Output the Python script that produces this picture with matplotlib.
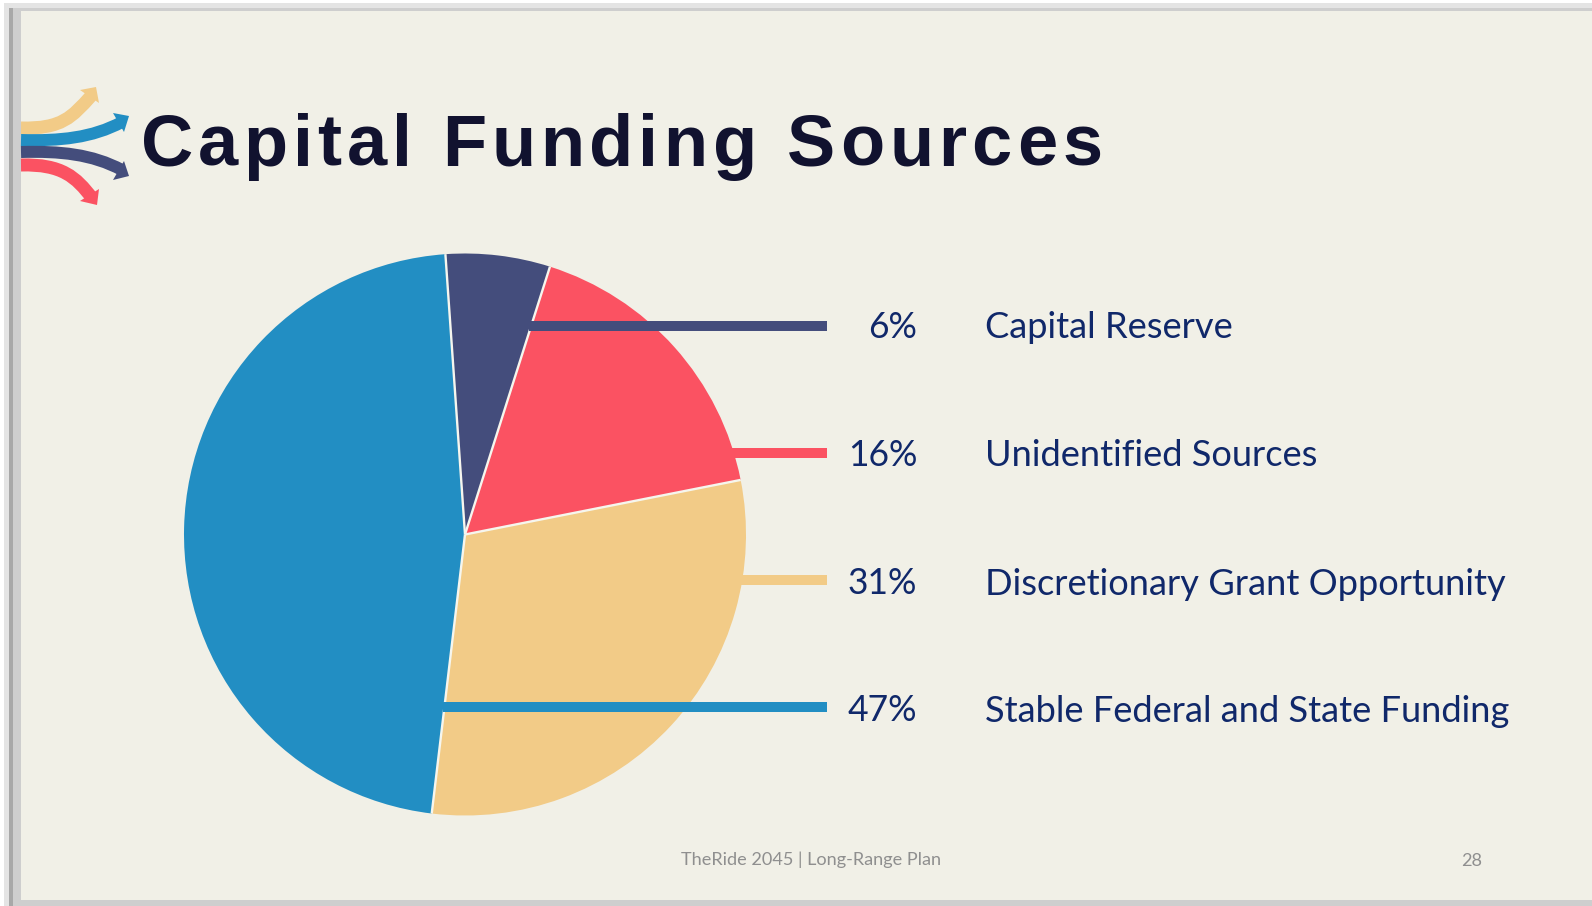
import matplotlib
matplotlib.use("Agg")
import matplotlib.pyplot as plt
from matplotlib.patches import Rectangle, PathPatch, Polygon
from matplotlib.path import Path
from matplotlib.text import Text
from matplotlib.transforms import IdentityTransform
import numpy as np

# ---- data ----
categories = ["Capital Reserve", "Unidentified Sources",
              "Discretionary Grant Opportunity", "Stable Federal and State Funding"]
pct_labels = ["6%", "16%", "31%", "47%"]
slice_shares = [6, 17, 30, 47]   # slice sizes as drawn in the picture
colors = ["#444d7c", "#fb5262", "#f2cb87", "#228ec3"]
title = "Capital Funding Sources"
footer = "TheRide 2045 | Long-Range Plan"
page = "28"

W, H = 1592, 906
BG = "#f1f0e7"
fig = plt.figure(figsize=(W / 100, H / 100), dpi=100, facecolor="white")
ax = fig.add_axes([0, 0, 1, 1])


def Y(y):
    return -y


# pie
cx, cy, R = 465, 534.5, 281
wedges, _ = ax.pie(slice_shares, colors=colors, startangle=94, counterclock=False,
                   center=(cx, Y(cy)), radius=R, frame=False,
                   wedgeprops=dict(edgecolor="none", linewidth=0, zorder=1))
ax.set_xlim(0, W)
ax.set_ylim(-H, 0)
ax.set_aspect("auto")
ax.axis("off")

# thin light separators between the slices
for w in wedges:
    a = np.deg2rad(w.theta1)
    ax.plot([cx, cx + R * np.cos(a)], [Y(cy), Y(cy) + R * np.sin(a)],
            color="#f6f6ee", lw=1.7, solid_capstyle="butt", zorder=1.5)

# slide frame / shadow
ax.add_patch(Rectangle((4, Y(H + 3)), W, H, fc="#e4e4e4", ec="none", zorder=0))
ax.add_patch(Rectangle((9, Y(H + 8)), W, H, fc="#a8a8a8", ec="none", zorder=0.1))
ax.add_patch(Rectangle((13, Y(H + 8)), W, H, fc="#cecece", ec="none", zorder=0.2))
ax.add_patch(Rectangle((21, Y(900)), W, 889, fc=BG, ec="none", zorder=0.3))

# leader lines
line_y = [326, 453, 580, 707]
line_x0 = [529, 695, 735, 443]
for ly, lx, c in zip(line_y, line_x0, colors):
    ax.plot([lx, 827], [Y(ly), Y(ly)], color=c, lw=7.2, solid_capstyle="butt", zorder=3)

ink = "#10286a"
pct_base = [338, 466, 594, 721]
cat_base = [338, 466, 595, 722]
for yp, yc, p, cat in zip(pct_base, cat_base, pct_labels, categories):
    ax.text(917.5, Y(yp), p, ha="right", va="baseline", fontsize=25.6,
            family="Lato", color=ink, zorder=4)
    ax.text(985, Y(yc), cat, ha="left", va="baseline", fontsize=26.1,
            family="Lato", color=ink, zorder=4)


class SpacedText(Text):
    """One text object drawn with extra letter spacing."""
    spacing = 0.0

    def draw(self, renderer):
        s = self.get_text()
        x0, y0 = self.get_transform().transform(self.get_position())
        fp = self.get_fontproperties()
        for i, ch in enumerate(s):
            w = renderer.get_text_width_height_descent(s[:i], fp, False)[0] if i else 0
            t = Text(x0 + w + i * self.spacing, y0, ch, fontproperties=fp,
                     color=self.get_color(), va="baseline", ha="left",
                     transform=IdentityTransform())
            t.set_figure(self.get_figure())
            t.draw(renderer)


tt = SpacedText(141, Y(166), title, fontsize=52, fontweight="bold",
                family="Liberation Sans", color="#11122f", va="baseline", ha="left",
                transform=ax.transData, zorder=5)
tt.spacing = 5.0
ax.add_artist(tt)

ax.text(811, Y(865), footer, ha="center", va="baseline", fontsize=13.1, family="Lato",
        color="#8f8f8f", zorder=4)
ax.text(1472, Y(866), page, ha="center", va="baseline", fontsize=13.1, family="Lato",
        color="#8f8f8f", zorder=4)

# logo arrows: stroke curve plus head
arrows = [
    (colors[2], [(21, 128), (62, 129), (72, 117), (91, 96)], 13, [(80, 90), (96, 87), (99, 103)]),
    (colors[3], [(21, 140), (60, 141), (92, 138), (122, 122)], 12, [(113, 113), (129, 116), (124, 132)]),
    (colors[0], [(21, 152), (60, 151), (92, 154), (122, 170)], 12, [(113, 180), (129, 176), (124, 161)]),
    (colors[1], [(21, 165), (62, 164), (76, 177), (92, 198)], 13, [(80, 201), (97, 205), (99, 189)]),
]
codes = [Path.MOVETO, Path.CURVE4, Path.CURVE4, Path.CURVE4]
for c, pts, lw, head in arrows:
    p = Path([(x, Y(y)) for x, y in pts], codes)
    ax.add_patch(PathPatch(p, fc="none", ec=c, lw=lw * 0.72, capstyle="butt", zorder=2))
    ax.add_patch(Polygon([(x, Y(y)) for x, y in head], fc=c, ec="none", zorder=2))

fig.savefig("out.png", dpi=100, facecolor="white")
